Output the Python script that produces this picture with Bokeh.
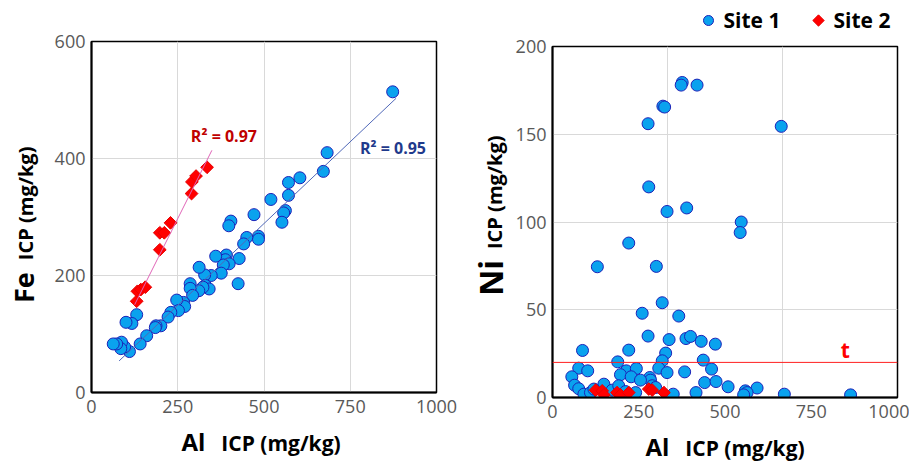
import numpy as np
from bokeh.plotting import figure
from bokeh.models import Range1d, FixedTicker, Span
from bokeh.core.properties import value
from bokeh.layouts import row, column
from bokeh.embed import file_html
from bokeh.resources import INLINE

# ---------------- data ----------------
# Left panel: Al ICP vs Fe ICP (mg/kg)
site1_al_fe = [873, 683, 672, 604, 571, 571, 520, 562, 557, 552, 471, 404, 398, 484, 484,
               450, 441, 428, 425, 391, 388, 399, 382, 360, 376, 347, 328, 312, 330, 341,
               323, 311, 286, 286, 293, 267, 270, 247, 252, 230, 222, 201, 187, 185, 160,
               141, 131, 117, 100, 110, 96, 87, 85, 73, 63]
site1_fe = [514, 410, 378, 367, 359, 337, 330, 311, 307, 291, 304, 293, 285, 267, 262,
            265, 254, 229, 186, 235, 227, 220, 218, 233, 204, 200, 201, 214, 183, 177,
            180, 174, 186, 178, 166, 154, 147, 158, 140, 137, 129, 114, 114, 111, 97,
            83, 133, 118, 120, 70, 78, 86, 75, 83, 83]
site2_al_fe = [131, 133, 143, 156, 198, 198, 211, 229, 290, 291, 303, 335]
site2_fe = [156, 173, 176, 180, 244, 273, 273, 290, 340, 360, 370, 385]

# trend lines (end points)
site1_trend_al = [80, 883]
site1_trend_fe = [54, 503]
site2_trend_al = [125, 349]
site2_trend_fe = [150, 414]
r2_site1 = "R² = 0.95"
r2_site2 = "R² = 0.97"

# Right panel: Al ICP vs Ni ICP (mg/kg)
site1_al_ni = [376, 373, 419, 320, 325, 277, 663, 279, 389, 332, 547, 544, 221, 130, 301,
               318, 260, 366, 277, 338, 387, 400, 431, 472, 87, 221, 328, 318, 189, 437,
               76, 102, 214, 243, 308, 383, 332, 461, 197, 228, 56, 282, 284, 255, 64,
               76, 441, 474, 509, 593, 559, 564, 554, 672, 864, 416, 350, 289, 299, 91,
               110, 149, 173, 192, 241, 212, 120]
site1_ni = [179.5, 178, 178, 166, 165.5, 156, 154.5, 120, 108, 106, 100, 94, 88, 74.5, 74.7,
            54, 48, 46.4, 35, 33, 33.6, 34.8, 32, 30.4, 26.8, 27, 25.3, 20.9, 20.3, 21.3,
            16.7, 15.2, 15.2, 16.5, 16.7, 14.6, 14.2, 16.2, 13, 11.8, 11.8, 11.4, 9.9, 9.9, 7,
            5, 8.5, 9.1, 6.1, 5.4, 3.8, 2.8, 1.5, 1.9, 1.5, 2.8, 1.9, 6.7, 5.7, 1.9,
            2.8, 7.6, 4.2, 6.7, 2.8, 3.4, 4.8]
site2_al_ni = [125, 144, 149, 187, 197, 221, 279, 289, 323]
site2_ni = [4.2, 3.8, 1.5, 2.8, 1.5, 2.8, 4.8, 4.2, 2.8]
ni_threshold = 20
threshold_label = "t"
legend_labels = ["Site 1", "Site 2"]

x_ticks = [0, 250, 500, 750, 1000]
fe_ticks = [0, 200, 400, 600]
ni_ticks = [0, 50, 100, 150, 200]
ni_xgrid = [1000 / 3, 2000 / 3]

# ---------------- styles ----------------
BLUE = dict(marker="circle", size=12, fill_color="#0aa2ee", line_color="#1c22b8", line_width=1)
REDM = dict(marker="square", angle=np.pi / 4, size=9, fill_color="#ff0000",
            line_color="#e80000", line_width=1)
FONT = "Open Sans"
TICK_COLOR = "#595959"


def style(p, x_standoff):
    p.background_fill_color = "white"
    p.border_fill_color = "white"
    p.outline_line_color = "black"
    p.outline_line_width = 1.5
    p.grid.grid_line_color = "#d9d9d9"
    p.grid.grid_line_width = 1
    for ax in (p.xaxis[0], p.yaxis[0]):
        ax.axis_line_color = "black"
        ax.axis_line_width = 2
        ax.major_tick_line_color = None
        ax.minor_tick_line_color = None
        ax.major_tick_out = 0
        ax.major_tick_in = 0
        ax.major_label_text_font = FONT
        ax.major_label_text_font_size = "18px"
        ax.major_label_text_color = TICK_COLOR
    p.xaxis.major_label_standoff = x_standoff
    p.yaxis.major_label_standoff = 6


def text_fig(w, h):
    f = figure(width=w, height=h, output_backend="svg", toolbar_location=None,
               x_range=Range1d(0, w), y_range=Range1d(0, h),
               x_axis_type=None, y_axis_type=None, min_border=0)
    f.outline_line_color = None
    f.background_fill_color = "white"
    f.border_fill_color = "white"
    return f


def put(f, x, y, txt, size, angle=0.0, color="black", align="center"):
    f.text(x=[x], y=[y], text=[txt], angle=angle, text_font=value(FONT),
           text_font_style="bold", text_font_size=size, text_color=color,
           text_align=align, text_baseline="middle")


# ---------------- left panel ----------------
P1_H = 425
p1 = figure(width=415, height=P1_H, output_backend="svg", toolbar_location=None,
            x_range=Range1d(0, 1000), y_range=Range1d(0, 600),
            min_border_left=46, min_border_right=24, min_border_top=41, min_border_bottom=33)
style(p1, 7)
p1.xaxis.ticker = FixedTicker(ticks=x_ticks)
p1.yaxis.ticker = FixedTicker(ticks=fe_ticks)

p1.scatter(site1_al_fe, site1_fe, **BLUE)
p1.scatter(site2_al_fe, site2_fe, **REDM)
p1.line(site1_trend_al, site1_trend_fe, line_color="#5068b8", line_width=1)
p1.line(site2_trend_al, site2_trend_fe, line_color="#e066b8", line_width=1)

p1.text(x=[288], y=[438], text=[r2_site2], text_font=value(FONT), text_font_style="bold",
        text_font_size="16px", text_color="#c00000", text_baseline="middle")
p1.text(x=[778], y=[418], text=[r2_site1], text_font=value(FONT), text_font_style="bold",
        text_font_size="16px", text_color="#1f3a8c", text_baseline="middle")

yl1 = text_fig(45, P1_H)
put(yl1, 22.5, 127, "Fe", "27px", angle=np.pi / 2)
put(yl1, 25.2, 229, "ICP (mg/kg)", "20px", angle=np.pi / 2)

xl1 = text_fig(460, 37)
put(xl1, 193, 21, "Al", "24px")
put(xl1, 280.5, 20, "ICP (mg/kg)", "21px")

left_col = column(row(yl1, p1), xl1)

# ---------------- right panel ----------------
LEG_H = 34
P2_H = 395
p2 = figure(width=397, height=P2_H, output_backend="svg", toolbar_location=None,
            x_range=Range1d(0, 1000), y_range=Range1d(0, 200),
            min_border_left=40, min_border_right=12, min_border_top=12, min_border_bottom=32)
style(p2, 7)
p2.xaxis.ticker = FixedTicker(ticks=x_ticks)
p2.yaxis.ticker = FixedTicker(ticks=ni_ticks)
p2.xgrid.ticker = FixedTicker(ticks=ni_xgrid)

p2.scatter(site1_al_ni, site1_ni, **BLUE)
p2.scatter(site2_al_ni, site2_ni, **REDM)
p2.add_layout(Span(location=ni_threshold, dimension="width", line_color="#ff2020", line_width=1))
p2.text(x=[849], y=[27], text=[threshold_label], text_font=value(FONT), text_font_style="bold",
        text_font_size="21px", text_color="#ff0000", text_baseline="middle", text_align="center")

# legend strip above the right panel (keys drawn with the same marker styles)
leg = text_fig(449, LEG_H)
leg.scatter(x=[248], y=[14], **dict(BLUE, size=10))
leg.scatter(x=[358], y=[14], **dict(REDM, size=8))
put(leg, 263, 14.5, legend_labels[0], "21px", align="left")
put(leg, 373, 14.5, legend_labels[1], "21px", align="left")

yl2 = text_fig(52, P2_H)
put(yl2, 30, 134.5, "Ni", "32px", angle=np.pi / 2)
put(yl2, 34.2, 231, "ICP (mg/kg)", "20px", angle=np.pi / 2)

xl2 = text_fig(449, 33)
put(xl2, 197, 16.5, "Al", "24px")
put(xl2, 284.5, 15, "ICP (mg/kg)", "21px")

right_col = column(leg, row(yl2, p2), xl2)

layout = row(left_col, right_col)
open("out.html", "w").write(file_html(layout, INLINE))
